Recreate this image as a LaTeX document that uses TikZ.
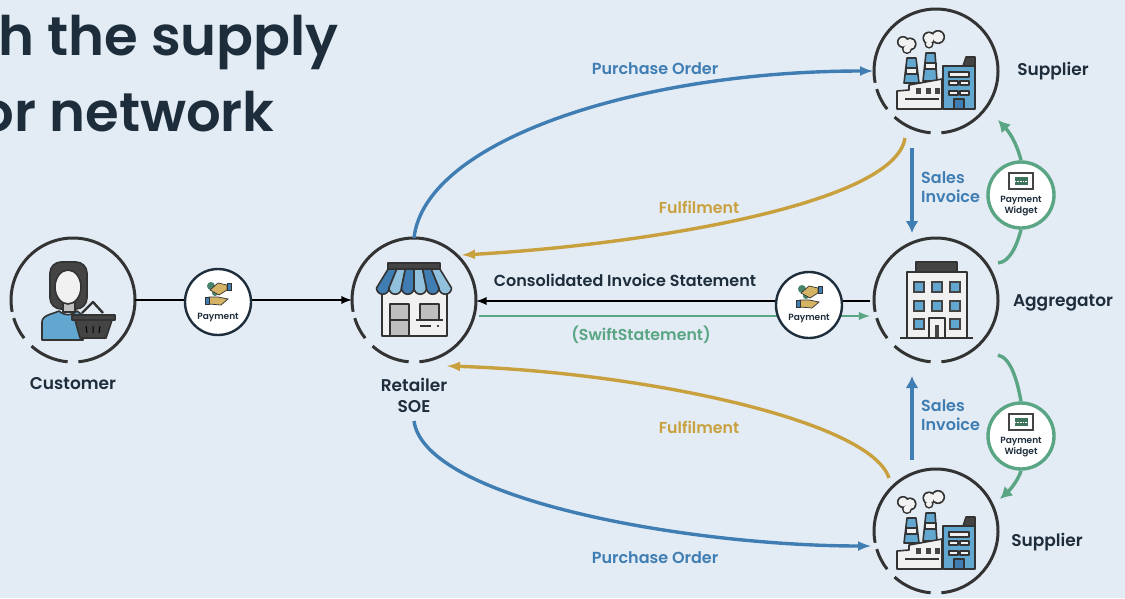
\documentclass[tikz,border=0pt]{standalone}
\usepackage{fontspec}
\usetikzlibrary{arrows.meta}
\setmainfont{Poppins}[BoldFont={Poppins SemiBold}]
\definecolor{bgcol}{HTML}{E3ECF4}
\definecolor{ringcol}{HTML}{333333}
\definecolor{inkcol}{HTML}{1E2D3B}
\definecolor{bluecol}{HTML}{3F7DB3}
\definecolor{goldcol}{HTML}{C9A03E}
\definecolor{greencol}{HTML}{5AA583}
\definecolor{skycol}{HTML}{62A7CF}
\definecolor{palecol}{HTML}{F1F1F1}
\definecolor{darkcol}{HTML}{444444}
\tikzset{
    ringnode/.style={circle,minimum size=124pt,inner sep=0pt,outer sep=0pt},
    paynode/.style={circle,minimum size=66pt,inner sep=0pt,fill=white,draw=inkcol,line width=2.4pt},
    widgetnode/.style={circle,minimum size=66pt,inner sep=0pt,fill=white,draw=greencol,line width=3.4pt},
    namelabel/.style={font=\fontsize{17}{21}\selectfont\bfseries,text=inkcol,align=center},
    bluelabel/.style={font=\fontsize{16}{19}\selectfont\bfseries,text=bluecol,align=left},
    goldlabel/.style={font=\fontsize{15.8}{19}\selectfont\bfseries,text=goldcol},
    smalllabel/.style={font=\fontsize{9}{11}\selectfont\bfseries,text=inkcol,align=center},
    titlelabel/.style={anchor=base east,inner sep=0pt,font=\fontsize{54.5}{60}\selectfont\bfseries,text=inkcol},
    icon/.style={draw=ringcol,line width=1.6pt,line join=round},
    blueline/.style={draw=bluecol,line width=3.4pt},
    goldline/.style={draw=goldcol,line width=3.4pt},
    greenline/.style={draw=greencol,line width=3.4pt},
    bigtip/.style={-{Latex[length=12pt,width=13pt]}}
}
\newcommand{\factoryicon}{
    \fill[skycol,icon] (-29,-13) -- (-20,-13) -- (-17,12) -- (-32,12) -- cycle;
    \fill[palecol,icon] (-30,-3) rectangle (-19,3);
    \fill[skycol,icon] (-10,-18) -- (-1,-18) -- (1,10) -- (-13,10) -- cycle;
    \fill[palecol,icon] (-11,-8) rectangle (0,-2);
    \fill[palecol,icon] (-39,38) -- (-39,20) -- (-27,19) -- (-27,14) -- (6,8) -- (6,38) -- cycle;
    \fill[darkcol,icon] (27,-5) -- (30,-14) -- (39,-14) -- (39,-5) -- cycle;
    \fill[skycol,icon] (7,-5) rectangle (39,38);
    \fill[palecol,icon] (13,1) rectangle (33,6);
    \foreach \wx in {13,24} \foreach \wy in {10,20} {
        \fill[palecol,icon] (\wx,\wy) rectangle ++(9,4);
    }
    \fill[bluecol,icon] (18,28) rectangle (28,38);
    \foreach \wx in {-20,-10,-1} {
        \fill[darkcol] (\wx,17) rectangle ++(5,6);
    }
    \draw[icon] (-31,28) -- (3,28);
    % smoke: dark discs first, then the white ones
    \foreach \sx/\sy/\sr in {-33/-29/4.5,-26/-27/5,-29/-22/3.5,-7/-33/5,2/-34/5.5,-7/-27/3} {
        \fill[ringcol] (\sx,\sy) circle (\sr+1.6);
    }
    \foreach \sx/\sy/\sr in {-33/-29/4.5,-26/-27/5,-29/-22/3.5,-7/-33/5,2/-34/5.5,-7/-27/3} {
        \fill[palecol] (\sx,\sy) circle (\sr);
    }
}
\newcommand{\towericon}{
    \fill[darkcol,icon] (-20,-38) rectangle (21,-28);
    \fill[palecol,icon] (-29,-28) rectangle (31,38);
    \foreach \wx/\wy in {-18/-14,0/-14,18/-14,-18/5,0/5,18/5,-18/23,18/23} {
        \fill[skycol,draw=darkcol,line width=2pt] (\wx-4,\wy-4) rectangle (\wx+6,\wy+6);
    }
    \fill[palecol,icon] (-7,18) rectangle (9,38);
    \fill[darkcol] (-1,25) rectangle (3,38);
    \draw[icon] (-36,38) -- (37,38);
}
\newcommand{\shopicon}{
    \fill[palecol,icon] (-32,-10) rectangle (33,36);
    \fill[lightgray,icon] (-24,4) rectangle (-5,36);
    \draw[icon] (-24,20) -- (-5,20);
    \fill[lightgray,icon] (6,4) rectangle (25,20);
    \draw[icon] (2,20) -- (29,20);
    \draw[icon] (6,26) -- (17,26);
    \fill[darkcol] (23,25) rectangle (25,27);
    \fill[darkcol,icon] (-26,-37) rectangle (26,-31);
    \foreach \ax/\bx/\tint in {-37.5/-25/bluecol,-25/-12.5/skycol!70,-12.5/0/bluecol,0/12.5/skycol!70,12.5/25/bluecol,25/37.5/skycol!70} {
        \fill[\tint,icon] (\ax*0.69,-31) -- (\bx*0.69,-31) -- (\bx,-12) arc (0:180:6.25) -- cycle;
    }
}
\newcommand{\shoppericon}{
    \fill[darkcol,icon,rounded corners=11pt] (-23,9) rectangle (14,-38);
    \fill[lightgray,icon] (-10,0) rectangle (2,12);
    \fill[skycol,icon] (-31,40) -- (-31,22) .. controls (-31,15) and (-20,14) .. (-14,11) .. controls (-8,16) and (-2,16) .. (4,11) -- (16,20) -- (10,40) -- cycle;
    \fill[palecol,icon] (-5,-13) ellipse (13 and 17);
    \draw[icon,line width=2.4pt] (9,13) -- (20,2) -- (30,13);
    \fill[darkcol,icon] (2,20) -- (39,20) -- (33,38) -- (7,38) -- cycle;
    \fill[darkcol,icon] (-1,15) rectangle (42,20);
    \draw[black,line width=1pt] (13,26) -- (14,33) (20,26) -- (20,33) (27,26) -- (26,33);
}
\newcommand{\handshakeicon}{
    \fill[greencol!80!black] (-7,-16) circle (4);
    \fill[greencol!80!black] (-3,-9) circle (3);
    \fill[goldcol!80!white,draw=ringcol,line width=.7pt] (-8,-12) -- (0,-19) -- (9,-17) -- (9,-12) -- (1,-7) -- cycle;
    \fill[bluecol,draw=ringcol,line width=.7pt] (9,-19) rectangle (13,-12);
    \fill[goldcol!80!white,draw=ringcol,line width=.7pt] (-9,-5) -- (0,-5) -- (10,-3) -- (3,3) -- (-9,2) -- cycle;
    \fill[bluecol,draw=ringcol,line width=.7pt] (-13,-5) rectangle (-9,2);
}
\newcommand{\banknoteicon}{
    \fill[white,draw=darkcol,line width=1.2pt] (-12,-22) rectangle (12,-6);
    \fill[greencol!70!black] (-6,-18) rectangle (7,-10);
    \draw[white,line width=.6pt,densely dotted] (-6,-14) -- (7,-14);
}
\newcommand{\placeicon}[2]{
    \begin{scope}[shift={(#1.center)}]
        #2
    \end{scope}
}
% ring with the three gaps low on the left
\newcommand{\gapring}[1]{
    \draw[ringcol,line width=3pt] (#1.center) ++(85:62) arc (85:-191:62);
    \draw[ringcol,line width=3pt] (#1.center) ++(163:62) arc (163:142:62);
    \draw[ringcol,line width=3pt] (#1.center) ++(132:62) arc (132:95:62);
}
\begin{document}
\begin{tikzpicture}[x=1pt,y=-1pt]
    \useasboundingbox (0,0) rectangle (1125,598);
    \fill[bgcol] (0,0) rectangle (1125,598);

    \node[titlelabel] (titleA) at (339,55) {h the supply};
    \node[titlelabel] (titleB) at (275,131) {or network};

    \node[ringnode] (customer) at (73,300) {};
    \node[ringnode] (retailer) at (414,300) {};
    \node[ringnode] (supplierA) at (936,71) {};
    \node[ringnode] (aggregator) at (936,300) {};
    \node[ringnode] (supplierB) at (936,531) {};

    \gapring{customer}
    \gapring{retailer}
    \gapring{supplierA}
    \gapring{aggregator}
    \gapring{supplierB}

    \placeicon{customer}{\shoppericon}
    \placeicon{retailer}{\shopicon}
    \placeicon{supplierA}{\factoryicon}
    \placeicon{aggregator}{\towericon}
    \placeicon{supplierB}{\factoryicon}

    \node[namelabel] (customerlab) at (73,384) {Customer};
    \node[namelabel] (retailerlab) at (414,395) {Retailer\\SOE};
    \node[namelabel] (supplierAlab) at (1053,71) {Supplier};
    \node[namelabel] (aggregatorlab) at (1063,303) {Aggregator};
    \node[namelabel] (supplierBlab) at (1047,542) {Supplier};

    \coordinate (poB) at (414,421);
    \coordinate (fulA) at (905,138);
    \coordinate (fulB) at (889,478);
    \coordinate (invAtop) at (912,148);
    \coordinate (invAend) at (912,233);
    \coordinate (invBtop) at (912,460);
    \coordinate (invBend) at (912,376);
    \coordinate (conA) at (870,301);
    \coordinate (swiftA) at (479,316);
    \coordinate (swiftB) at (870,316);
    \coordinate (retailA) at (462,255);
    \coordinate (retailB) at (447,366);
    \coordinate (poAend) at (873,71);
    \coordinate (poBend) at (871,546);

    \draw[blueline,-latex] (retailer.north) .. controls (425,140) and (640,71) .. (poAend);
    \draw[blueline,-latex] (poB) .. controls (425,500) and (690,546) .. (poBend);
    \draw[goldline,-latex] (fulA) .. controls (895,205) and (640,245) .. (retailA);
    \draw[goldline,-latex] (fulB) .. controls (870,420) and (640,372) .. (retailB);
    \draw[blueline,bigtip] (invAtop) -- (invAend);
    \draw[blueline,bigtip] (invBtop) -- (invBend);
    \draw[black,line width=2.6pt,-latex] (customer.east) -- (retailer.west);
    \draw[black,line width=2.6pt,-latex] (conA) -- (retailer.east |- conA);
    \draw[greencol,line width=2.8pt,-latex] (swiftA) -- (swiftB);

    \node[paynode] (payA) at (218,302) {};
    \placeicon{payA}{\handshakeicon}
    \node[smalllabel] (payAlab) at (218,318) {Payment};
    \node[paynode] (payB) at (809,305) {};
    \placeicon{payB}{\handshakeicon}
    \node[smalllabel] (payBlab) at (809,319) {Payment};

    \node[widgetnode] (widgetA) at (1021,195) {};
    \placeicon{widgetA}{\banknoteicon}
    \node[smalllabel] (widgetAlab) at (1021,206) {Payment\\Widget};
    \node[widgetnode] (widgetB) at (1021,436) {};
    \placeicon{widgetB}{\banknoteicon}
    \node[smalllabel] (widgetBlab) at (1021,447) {Payment\\Widget};

    \coordinate (grnAstart) at (998,263);
    \coordinate (grnAend) at (998,120);
    \coordinate (grnBstart) at (998,355);
    \coordinate (grnBend) at (1000,499);
    \draw[greenline] (grnAstart) .. controls (1010,262) and (1017,245) .. (widgetA.south);
    \draw[greenline,bigtip] (widgetA.north) .. controls (1018,148) and (1012,135) .. (grnAend);
    \draw[greenline] (grnBstart) .. controls (1012,358) and (1018,385) .. (widgetB.north);
    \draw[greenline,bigtip] (widgetB.south) .. controls (1019,478) and (1012,488) .. (grnBend);

    \node[bluelabel,anchor=center] (poAlab) at (655,69) {Purchase Order};
    \node[bluelabel,anchor=center] (poBlab) at (655,558) {Purchase Order};
    \node[goldlabel] (fulAlab) at (699,207) {Fulfilment};
    \node[goldlabel] (fulBlab) at (699,427) {Fulfilment};
    \node[bluelabel,anchor=west,inner sep=0pt] (invAlab) at (921,187) {Sales\\Invoice};
    \node[bluelabel,anchor=west,inner sep=0pt] (invBlab) at (921,415) {Sales\\Invoice};
    \node[namelabel,font=\fontsize{16}{19}\selectfont\bfseries] (conlab) at (625,280) {Consolidated Invoice Statement};
    \node[goldlabel,text=greencol] (swiftlab) at (641,335) {(SwiftStatement)};
\end{tikzpicture}
\end{document}
